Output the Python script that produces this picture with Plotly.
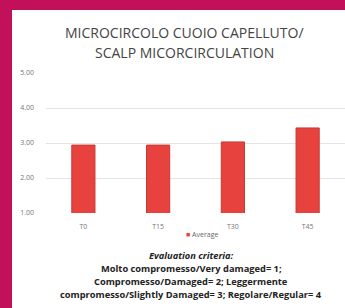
import plotly.graph_objects as go

categories = ["T0", "T15", "T30", "T45"]
average = [2.94, 2.94, 3.03, 3.43]
tick_vals = [1, 2, 3, 4, 5]
tick_text = ["1.00", "2.00", "3.00", "4.00", "5.00"]
title_lines = ["MICROCIRCOLO CUOIO CAPELLUTO/", "SCALP MICORCIRCULATION"]
note_lines = [
    "<i>Evaluation criteria:</i>",
    "Molto compromesso/Very damaged= 1;",
    "Compromesso/Damaged= 2; Leggermente",
    "compromesso/Slightly Damaged= 3; Regolare/Regular= 4",
]
series_name = "Average"

W, H = 345, 308
L, R, T, B = 46, 0, 73, 95
pw, ph = W - L - R, H - T - B
BAR = "#E8423F"

def px(x):
    return (x - L) / pw

def py(y):
    return (H - B - y) / ph

fig = go.Figure()
fig.add_trace(go.Bar(
    x=categories, y=average, name=series_name,
    marker=dict(color=BAR, line=dict(color="#C33A32", width=1)),
    width=0.31, showlegend=False,
))

border = "#C2105A"
shapes = [
    dict(type="rect", xref="paper", yref="paper", x0=px(-2), x1=px(12), y0=py(H + 2), y1=py(-2),
         fillcolor=border, line=dict(width=0), layer="above"),
    dict(type="rect", xref="paper", yref="paper", x0=px(-2), x1=px(W + 2), y0=py(10), y1=py(-2),
         fillcolor=border, line=dict(width=0), layer="above"),
]

ann = []
for i, t in enumerate(title_lines):
    ann.append(dict(text=t, xref="paper", yref="paper", x=px(184), y=py(33 + i * 19),
                    showarrow=False, xanchor="center", yanchor="middle",
                    font=dict(family="Open Sans", size=14, color="#444444")))
note_y = [255, 268, 281, 294]
for t, yy in zip(note_lines, note_y):
    ann.append(dict(text="<b>" + t + "</b>", xref="paper", yref="paper", x=px(191), y=py(yy),
                    showarrow=False, xanchor="center", yanchor="middle",
                    font=dict(family="Open Sans", size=9.3, color="#222222")))
ann.append(dict(text='<span style="color:%s">■</span> %s' % (BAR, series_name),
                xref="paper", yref="paper", x=px(202), y=py(234),
                showarrow=False, xanchor="center", yanchor="middle",
                font=dict(family="Open Sans", size=7, color="#666666")))

fig.update_layout(
    width=W, height=H,
    margin=dict(l=L, r=R, t=T, b=B),
    paper_bgcolor="white", plot_bgcolor="white",
    showlegend=False,
    xaxis=dict(showgrid=False, showline=False, ticks="", ticklabelstandoff=8,
               tickfont=dict(family="Open Sans", size=7, color="#777777")),
    yaxis=dict(range=[1, 5], tickvals=tick_vals, ticktext=tick_text,
               showgrid=True, gridcolor="#E4E4E4", gridwidth=1, zeroline=False,
               showline=False, ticks="", ticklabelstandoff=11,
               tickfont=dict(family="Open Sans", size=7, color="#777777")),
    shapes=shapes,
    annotations=ann,
    bargap=0.69,
)

fig.write_html("out.html", config={"displayModeBar": False},
               post_script="document.body.style.margin='0px';document.body.style.overflow='hidden';")
